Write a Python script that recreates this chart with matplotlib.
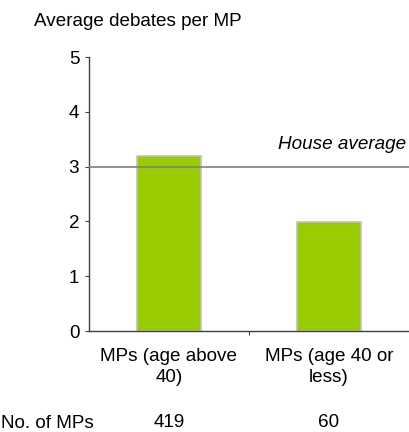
import matplotlib
matplotlib.use("Agg")
import matplotlib.pyplot as plt

# chart data
categories = ["MPs (age above\n40)", "MPs (age 40 or\nless)"]
debates = [3.19, 1.98]
mp_counts = ["419", "60"]
house_avg = 3.0

plt.rcParams['font.family'] = ['Liberation Sans', 'DejaVu Sans']
fs = 13.6

fig = plt.figure(figsize=(4.09, 4.32), dpi=100)
ax = fig.add_axes([89 / 409, 1 - 331 / 432, 1 - 89 / 409, 274 / 432])

x = list(range(len(categories)))
ax.bar(x, debates, width=0.4, color='#99cc00', edgecolor='#c0c0c0', linewidth=1.2, zorder=2)
ax.axhline(house_avg, color='#808080', linewidth=1.2, zorder=3)
ax.text(1.485, house_avg + 0.24, "House average", style='italic', fontsize=fs,
        ha='right', va='bottom')

ax.set_xlim(-0.5, 1.5)
ax.set_ylim(0, 5)
ax.set_yticks([0, 1, 2, 3, 4, 5])
ax.tick_params(axis='y', direction='out', length=3, labelsize=fs, pad=4, color='#404040')
ax.set_xticks([0.5])
ax.set_xticklabels([])
ax.tick_params(axis='x', direction='out', length=3, color='#404040')

for s in ['top', 'right']:
    ax.spines[s].set_visible(False)
for s in ['left', 'bottom']:
    ax.spines[s].set_color('#404040')
    ax.spines[s].set_linewidth(1.0)

for i, lab in enumerate(categories):
    ax.annotate(lab, xy=(i, 0), xycoords=('data', 'axes fraction'),
                xytext=(0, -26), textcoords='offset points',
                ha='center', va='center', fontsize=fs, linespacing=1.25)
    ax.annotate(mp_counts[i], xy=(i, 0), xycoords=('data', 'axes fraction'),
                xytext=(0, -66), textcoords='offset points',
                ha='center', va='center', fontsize=fs)

fig.text(1 / 409, 1 - 423 / 432, "No. of MPs", fontsize=fs, ha='left', va='center')
fig.text(34 / 409, 1 - 22 / 432, "Average debates per MP", fontsize=fs, ha='left', va='center')

fig.savefig("out.png", dpi=100)
